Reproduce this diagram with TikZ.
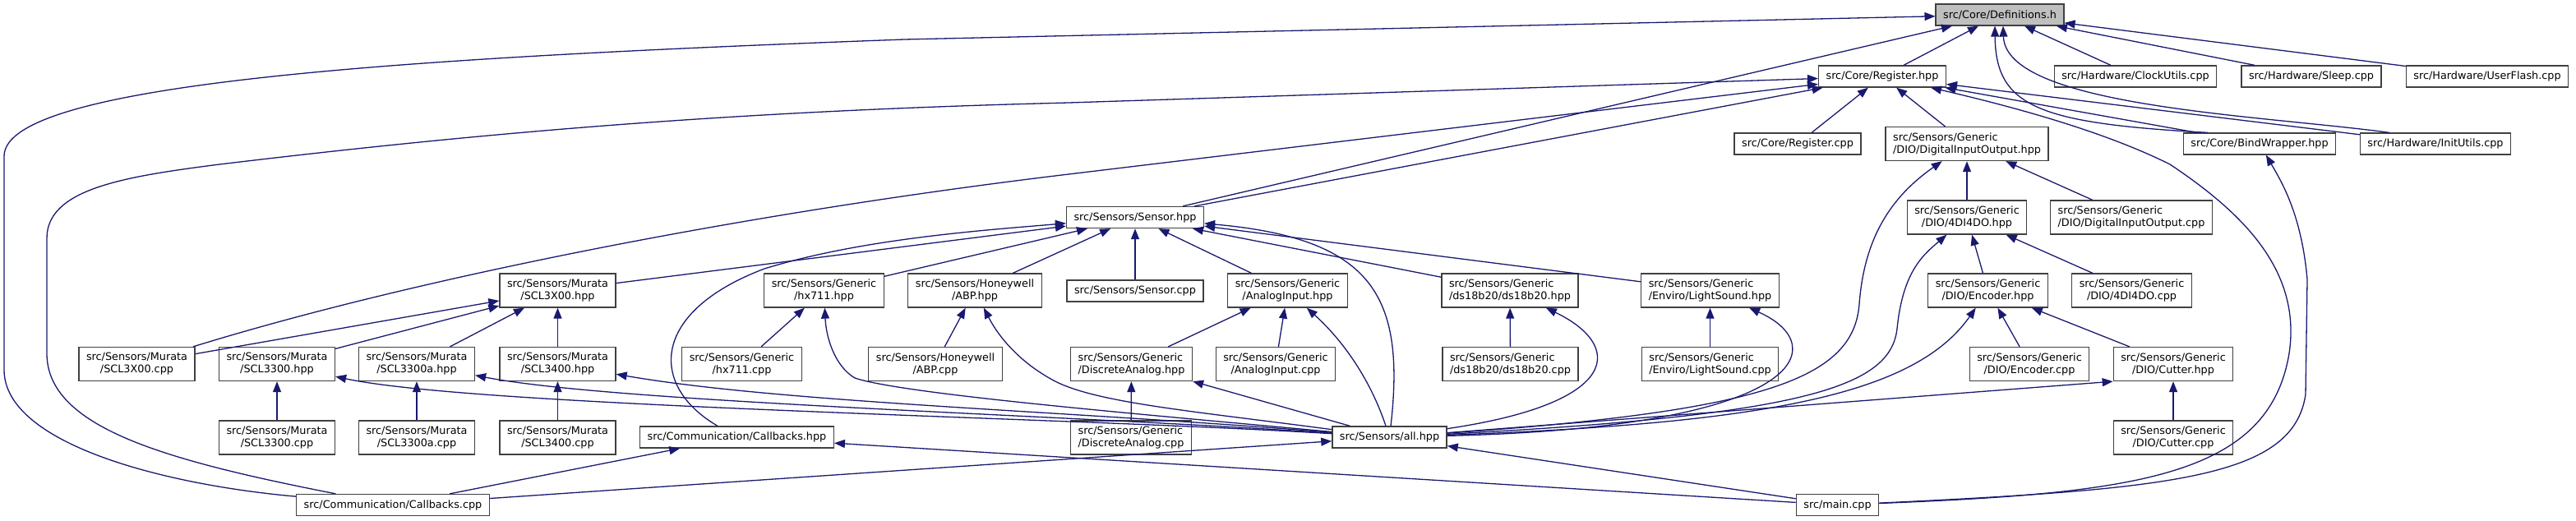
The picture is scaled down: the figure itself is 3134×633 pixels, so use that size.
\documentclass[tikz,border=0pt]{standalone}
\usepackage{fontspec}
\setmainfont{DejaVu Sans}
\usepackage{tikz}
\usetikzlibrary{arrows.meta}
\definecolor{edgeblue}{HTML}{191970}
\definecolor{rootgray}{HTML}{BFBFBF}

\begin{document}
\begin{tikzpicture}[
    x=1pt,y=-1pt,
    f/.style={draw=black!75,fill=white,line width=1.3pt,inner xsep=9pt,inner ysep=0pt,
      minimum height=26pt,font=\fontsize{12.8}{15}\selectfont,align=center},
    f2/.style={f,minimum height=41pt},
    f2l/.style={f2,align=left},
    e/.style={-{Triangle[length=13pt,width=10pt]},line width=1.3pt,edgeblue}
  ]
    \useasboundingbox (0,0) rectangle (3134,633);
    % top rows
    \node[f,fill=rootgray] (defs) at (2433,18) {src/Core/Definitions.h};
    \node[f] (regh) at (2290,93) {src/Core/Register.hpp}; \node[f] (clock) at (2598,93) {src/Hardware/ClockUtils.cpp};
    \node[f] (sleep) at (2812,93) {src/Hardware/Sleep.cpp}; \node[f] (flash) at (3026,93) {src/Hardware/UserFlash.cpp};
    \node[f] (regcpp) at (2187,175) {src/Core/Register.cpp}; \node[f2l] (dioh) at (2393,175) {src/Sensors/Generic\\/DIO/DigitalInputOutput.hpp};
    \node[f] (bind) at (2749,175) {src/Core/BindWrapper.hpp}; \node[f] (init) at (2963,175) {src/Hardware/InitUtils.cpp};
    \node[f] (sensh) at (1381,264.5) {src/Sensors/Sensor.hpp};
    \node[f2] (dio4h) at (2393,264.5) {src/Sensors/Generic\\/DIO/4DI4DO.hpp}; \node[f2l] (diocpp) at (2593,264.5) {src/Sensors/Generic\\/DIO/DigitalInputOutput.cpp};
    % sensor headers
    \node[f2] (sclxh) at (678.5,353.5) {src/Sensors/Murata\\/SCL3X00.hpp}; \node[f2] (hxh) at (1002.5,353.5) {src/Sensors/Generic\\/hx711.hpp};
    \node[f2] (abph) at (1186,353.5) {src/Sensors/Honeywell\\/ABP.hpp}; \node[f] (senscpp) at (1381,354) {src/Sensors/Sensor.cpp};
    \node[f2] (anah) at (1566.5,353.5) {src/Sensors/Generic\\/AnalogInput.hpp}; \node[f2l] (dsh) at (1837,353.5) {src/Sensors/Generic\\/ds18b20/ds18b20.hpp};
    \node[f2l] (lsh) at (2080.5,353.5) {src/Sensors/Generic\\/Enviro/LightSound.hpp}; \node[f2] (ench) at (2418.5,353.5) {src/Sensors/Generic\\/DIO/Encoder.hpp};
    \node[f2] (dio4cpp) at (2593.5,353.5) {src/Sensors/Generic\\/DIO/4DI4DO.cpp};
    \node[f2] (sclxcpp) at (166.5,443) {src/Sensors/Murata\\/SCL3X00.cpp}; \node[f2] (scl33h) at (337,443) {src/Sensors/Murata\\/SCL3300.hpp};
    \node[f2] (scl33ah) at (507,443) {src/Sensors/Murata\\/SCL3300a.hpp}; \node[f2] (scl34h) at (678.5,443) {src/Sensors/Murata\\/SCL3400.hpp};
    \node[f2] (hxcpp) at (902.5,443) {src/Sensors/Generic\\/hx711.cpp}; \node[f2] (abpcpp) at (1138,443) {src/Sensors/Honeywell\\/ABP.cpp};
    \node[f2l] (dah) at (1376.5,443) {src/Sensors/Generic\\/DiscreteAnalog.hpp}; \node[f2] (anacpp) at (1552,443) {src/Sensors/Generic\\/AnalogInput.cpp};
    \node[f2l] (dscpp) at (1837.5,443) {src/Sensors/Generic\\/ds18b20/ds18b20.cpp}; \node[f2l] (lscpp) at (2080.5,443) {src/Sensors/Generic\\/Enviro/LightSound.cpp};
    \node[f2] (enccpp) at (2469,443) {src/Sensors/Generic\\/DIO/Encoder.cpp}; \node[f2] (cuth) at (2644,443) {src/Sensors/Generic\\/DIO/Cutter.hpp};
    % bottom rows
    \node[f2] (scl33cpp) at (337,532.5) {src/Sensors/Murata\\/SCL3300.cpp}; \node[f2] (scl33acpp) at (507,532.5) {src/Sensors/Murata\\/SCL3300a.cpp};
    \node[f2] (scl34cpp) at (678.5,532.5) {src/Sensors/Murata\\/SCL3400.cpp}; \node[f] (cbh) at (896.5,532) {src/Communication/Callbacks.hpp};
    \node[f2l] (dacpp) at (1376,532.5) {src/Sensors/Generic\\/DiscreteAnalog.cpp}; \node[f] (allh) at (1690.5,532) {src/Sensors/all.hpp};
    \node[f2] (cutcpp) at (2644,532.5) {src/Sensors/Generic\\/DIO/Cutter.cpp};
    \node[f] (cbcpp) at (478,614.5) {src/Communication/Callbacks.cpp}; \node[f] (mainc) at (2235.5,614.5) {src/main.cpp};
    % straight includes
    \foreach \s/\t in {regh/defs,clock/defs,sleep/defs,flash/defs,sensh/defs,regcpp/regh,dioh/regh,bind/regh,init/regh,sensh/regh,
      sclxh/sensh,hxh/sensh,abph/sensh,senscpp/sensh,anah/sensh,dsh/sensh,lsh/sensh,
      sclxcpp/sclxh,scl33h/sclxh,scl33ah/sclxh,scl34h/sclxh,hxcpp/hxh,abpcpp/abph,dah/anah,anacpp/anah,dscpp/dsh,lscpp/lsh,
      dacpp/dah,allh/dah,dio4h/dioh,diocpp/dioh,ench/dio4h,dio4cpp/dio4h,enccpp/ench,cuth/ench,cutcpp/cuth,
      scl33cpp/scl33h,scl33acpp/scl33ah,scl34cpp/scl34h,cbcpp/cbh,mainc/cbh,cbcpp/allh,mainc/allh} {\draw[e] (\s)--(\t);}
    \draw[e] (allh) -- (cuth.south west);
    % curved includes
    \draw[e] (cbcpp) .. controls (200,590) and (5,540) .. (5,450) -- (5,190) .. controls (5,100) and (500,70) .. (1100,48) -- (defs);
    \draw[e] (cbcpp) .. controls (200,560) and (57,520) .. (57,430) -- (57,290) .. controls (57,230) and (150,215) .. (267,200)
      .. controls (600,160) and (900,135) .. (1300,125) -- (regh);
    \draw[e] (sclxcpp) .. controls (500,340) and (900,260) .. (1300,212) -- (regh);
    \draw[e] ([xshift=30pt]bind.north west) .. controls (2480,150) and (2428,130) .. ([xshift=-6pt]defs.south);
    \draw[e] ([xshift=36pt]init.north west) .. controls (2750,140) and (2440,130) .. ([xshift=4pt]defs.south);
    \draw[e] (mainc) .. controls (2600,600) and (2760,580) .. (2785,430) .. controls (2800,330) and (2730,260) .. (2640,200)
      .. controls (2560,160) and (2450,130) .. (regh);
    \draw[e] (mainc) .. controls (2650,595) and (2790,580) .. (2805,480) -- (2807,340) .. controls (2800,260) and (2775,220) .. (bind);
    \draw[e] (cbh) .. controls (790,470) and (790,380) .. (930,327) .. controls (1050,290) and (1200,280) .. (sensh);
    \draw[e] (allh) .. controls (1710,360) and (1670,290) .. (sensh);
    \draw[e] (allh) .. controls (1670,470) and (1640,420) .. (anah);
    \draw[e] (allh) .. controls (1975,490) and (1975,420) .. (dsh);
    \draw[e] (allh) .. controls (2200,520) and (2230,420) .. (lsh);
    \draw[e] (allh) .. controls (2150,500) and (2255,460) .. (2262,370) .. controls (2268,290) and (2300,240) .. (dioh);
    \draw[e] (allh) .. controls (2200,505) and (2300,470) .. (2308,400) .. controls (2315,330) and (2340,310) .. (dio4h);
    \draw[e] (allh) .. controls (2150,515) and (2330,480) .. (ench);
    \draw[e] (allh) .. controls (1300,500) and (950,490) .. (scl34h);
    \draw[e] (allh) .. controls (1300,505) and (750,490) .. (scl33ah);
    \draw[e] (allh) .. controls (1300,508) and (580,495) .. (scl33h);
    \draw[e] (allh) .. controls (1400,505) and (1100,480) .. (1040,460) .. controls (1015,445) and (1005,410) .. (hxh);
    \draw[e] (allh) .. controls (1450,500) and (1330,490) .. (1280,462) .. controls (1240,440) and (1215,410) .. (abph);
  \end{tikzpicture}
\end{document}
